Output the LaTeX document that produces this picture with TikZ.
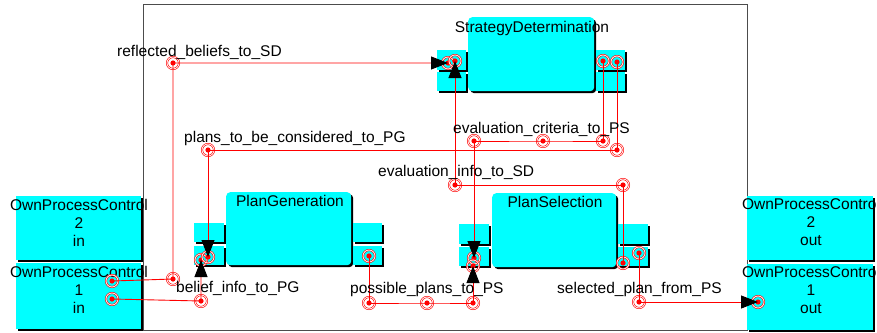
\documentclass[tikz,border=0pt]{standalone}
\usepackage{fontspec}
\setmainfont{Liberation Sans}
\usetikzlibrary{arrows.meta,shadows}
\definecolor{aqua}{RGB}{0,255,255}

\begin{document}
\begin{tikzpicture}[x=1pt,y=-1pt,
                    every node/.style={font=\fontsize{15.5}{18}\selectfont},
                    conn/.style={draw=red,line width=0.9pt},
                    >={Triangle[length=17pt,width=13pt,color=black]}]
  \tikzstyle{blk}=[drop shadow={shadow xshift=2pt,shadow yshift=-2pt,fill=black,opacity=1}]
  \tikzstyle{extbox}=[rectangle,fill=aqua,inner sep=0pt,anchor=north west,blk]
  \tikzstyle{modbox}=[rectangle,rounded corners=4pt,fill=aqua,inner sep=0pt,anchor=north west,blk]
  \tikzstyle{port}=[rectangle,fill=aqua,inner sep=0pt,anchor=north west,
                    minimum width=30pt,minimum height=19pt,blk]
  \tikzstyle{bull}=[circle,draw=red,line width=0.6pt,double=white,double distance=0.8pt,
                    minimum size=12pt,inner sep=0pt,
                    path picture={\fill[red] (path picture bounding box.center) circle (2.6pt);}]
  \tikzstyle{lbl}=[anchor=base west,inner sep=0pt]

  \useasboundingbox (0,0) rectangle (877,332);

  \node[draw=gray!60!black,line width=1pt,inner sep=0pt,anchor=north west,
        minimum width=604pt,minimum height=326pt] (frame) at (143,4) {};

  % outside
  \node[extbox,minimum width=125pt,minimum height=64pt] (opc2in)  at (16,196)  {};
  \node[extbox,minimum width=125pt,minimum height=66pt] (opc1in)  at (16,263)  {};
  \node[extbox,minimum width=126pt,minimum height=64pt] (opc2out) at (747,196) {};
  \node[extbox,minimum width=126pt,minimum height=66pt] (opc1out) at (747,264) {};
  \node[align=center,anchor=north,inner sep=0pt] (t2in)  at (79,199)  {OwnProcessControl\\2\\in};
  \node[align=center,anchor=north,inner sep=0pt] (t1in)  at (79,266)  {OwnProcessControl\\1\\in};
  \node[align=center,anchor=north,inner sep=0pt] (t2out) at (811,198) {OwnProcessControl\\2\\out};
  \node[align=center,anchor=north,inner sep=0pt] (t1out) at (811,266) {OwnProcessControl\\1\\out};

  % StrategyDetermination
  \node[port,minimum width=29pt,minimum height=20pt] (sdl1) at (437,50) {};
  \node[port,minimum width=29pt]                     (sdl2) at (437,72) {};
  \node[modbox,minimum width=126pt,minimum height=74pt] (sd) at (468,17) {};
  \node[port,minimum width=29pt,minimum height=20pt] (sdr1) at (596,50) {};
  \node[port,minimum width=29pt]                     (sdr2) at (596,72) {};
  \node[anchor=base] (sdlbl) at (532,32) {StrategyDetermination};

  % PlanGeneration
  \node[port] (pgl1) at (194,223) {};
  \node[port] (pgl2) at (194,246) {};
  \node[modbox,minimum width=125pt,minimum height=73pt] (pg) at (226,192) {};
  \node[port,minimum width=29pt] (pgr1) at (353,223) {};
  \node[port,minimum width=29pt] (pgr2) at (353,246) {};
  \node[anchor=base] (pglbl) at (290,206) {PlanGeneration};

  % PlanSelection
  \node[port,minimum height=20pt] (psl1) at (459,224) {};
  \node[port]                     (psl2) at (459,247) {};
  \node[modbox,minimum width=124pt,minimum height=74pt] (ps) at (492,193) {};
  \node[port,minimum height=20pt] (psr1) at (618,224) {};
  \node[port]                     (psr2) at (618,247) {};
  \node[anchor=base] (pslbl) at (555,207) {PlanSelection};

  % link points
  \node[bull] (rb0) at (112,281) {};
  \node[bull] (rb1) at (173,279) {};
  \node[bull] (rb2) at (173,63)  {};
  \node[bull] (rb3) at (448,63)  {};
  \node[bull] (bi0) at (112,299) {};
  \node[bull] (bi1) at (201,301) {};
  \node[bull] (bi2) at (201,260) {};
  \node[bull] (pc0) at (617,62)  {};
  \node[bull] (pc1) at (617,150) {};
  \node[bull] (pc2) at (208,150) {};
  \node[bull] (pc3) at (208,257) {};
  \node[bull] (ec0) at (603,61)  {};
  \node[bull] (ec1) at (603,141) {};
  \node[bull] (ec2) at (543,141) {};
  \node[bull] (ec3) at (474,141) {};
  \node[bull] (ec4) at (474,258) {};
  \node[bull] (ei0) at (623,263) {};
  \node[bull] (ei1) at (623,185) {};
  \node[bull] (ei2) at (455,185) {};
  \node[bull] (ei3) at (455,61)  {};
  \node[bull] (pp0) at (369,256) {};
  \node[bull] (pp1) at (369,303) {};
  \node[bull] (pp2) at (427,303) {};
  \node[bull] (pp3) at (473,303) {};
  \node[bull] (pp4) at (473,266) {};
  \node[bull] (sp0) at (639,253) {};
  \node[bull] (sp1) at (639,302) {};
  \node[bull] (sp2) at (758,302) {};

  \draw[conn,->] (rb0.center) -- (rb1.center) -- (rb2.center) -- (rb3.center);
  \draw[conn,->] (bi0.center) -- (bi1.center) -- (bi2.center);
  \draw[conn,->] (pc0.center) -- (pc1.center) -- (pc2.center) -- (pc3.center);
  \draw[conn,->] (ec0.center) -- (ec1.center) -- (ec2.center) -- (ec3.center) -- (ec4.center);
  \draw[conn,->] (ei0.center) -- (ei1.center) -- (ei2.center) -- (ei3.center);
  \draw[conn,->] (pp0.center) -- (pp1.center) -- (pp2.center) -- (pp3.center) -- (pp4.center);
  \draw[conn,->] (sp0.center) -- (sp1.center) -- (sp2.center);

  \node[lbl] (rblbl) at (117,56)  {reflected\_beliefs\_to\_SD};
  \node[lbl] (pclbl) at (184,142) {plans\_to\_be\_considered\_to\_PG};
  \node[lbl] (eclbl) at (453,133) {evaluation\_criteria\_to\_PS};
  \node[lbl] (eilbl) at (378,176) {evaluation\_info\_to\_SD};
  \node[lbl] (bilbl) at (176,292) {belief\_info\_to\_PG};
  \node[lbl] (pplbl) at (350,293) {possible\_plans\_to\_PS};
  \node[lbl] (splbl) at (557,293) {selected\_plan\_from\_PS};
\end{tikzpicture}
\end{document}
